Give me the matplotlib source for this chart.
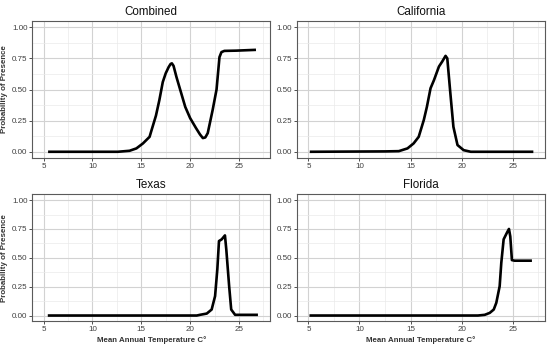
import matplotlib

matplotlib.use("Agg")
import matplotlib.pyplot as plt
from matplotlib.ticker import MultipleLocator

plt.rcParams["font.family"] = ["Liberation Sans", "DejaVu Sans"]

# curves (temperature, probability)
combined_x = [5.6, 12.6, 13.8, 14.5, 15.17, 15.85, 16.0, 16.5, 16.85, 17.2, 17.5, 17.8, 18.0,
              18.13, 18.3, 18.6, 19.2, 19.5, 20.0, 20.6, 21.0, 21.3, 21.55, 21.8, 22.3, 22.7,
              23.0, 23.2, 23.5, 24.7, 26.6]
combined_y = [0.0, 0.0, 0.008, 0.027, 0.067, 0.12, 0.16, 0.29, 0.415, 0.56, 0.63, 0.68, 0.705,
              0.71, 0.69, 0.6, 0.44, 0.36, 0.27, 0.19, 0.14, 0.11, 0.115, 0.15, 0.335, 0.5,
              0.76, 0.80, 0.81, 0.812, 0.818]

california_x = [5.26, 12.55, 13.85, 14.7, 15.3, 15.8, 16.3, 16.6, 16.96, 17.3, 17.78, 18.1,
                18.43, 18.6, 18.9, 19.2, 19.6, 20.2, 20.9, 26.9]
california_y = [0.0, 0.003, 0.005, 0.027, 0.067, 0.12, 0.255, 0.36, 0.51, 0.576, 0.684, 0.724,
                0.77, 0.75, 0.47, 0.2, 0.054, 0.013, 0.0, 0.0]

texas_x = [5.57, 20.68, 21.0, 21.7, 22.2, 22.55, 22.78, 22.95, 23.23, 23.56, 23.7, 23.99,
           24.2, 24.6, 26.8]
texas_y = [0.0, 0.0, 0.006, 0.017, 0.052, 0.168, 0.4, 0.645, 0.66, 0.694, 0.57, 0.254,
           0.052, 0.006, 0.006]

florida_x = [5.23, 21.6, 22.27, 22.76, 23.15, 23.4, 23.73, 23.89, 24.12, 24.44, 24.64, 24.77,
             24.93, 25.2, 26.76]
florida_y = [0.0, 0.0, 0.006, 0.023, 0.052, 0.11, 0.254, 0.457, 0.66, 0.717, 0.75, 0.685,
             0.48, 0.475, 0.475]

panels = [
    ("Combined", combined_x, combined_y),
    ("California", california_x, california_y),
    ("Texas", texas_x, texas_y),
    ("Florida", florida_x, florida_y),
]

x_ticks = [5, 10, 15, 20, 25]
y_ticks = [0.0, 0.25, 0.5, 0.75, 1.0]
y_tick_labels = ["0.00", "0.25", "0.50", "0.75", "1.00"]

W, H = 550, 349
fig = plt.figure(figsize=(W / 100, H / 100), dpi=100)

# axes boxes in pixels: left, top, right, bottom
boxes = [
    (32.3, 21, 270.3, 158),
    (296.7, 21, 545.3, 158),
    (32.3, 194.3, 270.3, 321.3),
    (296.7, 194.3, 545.3, 321.3),
]

for idx, ((title, xs, ys), (l, t, r, b)) in enumerate(zip(panels, boxes)):
    ax = fig.add_axes([l / W, 1 - b / H, (r - l) / W, (b - t) / H])
    ax.plot(xs, ys, color="black", linewidth=1.9, solid_joinstyle="round", zorder=3)
    ax.set_xlim(3.85, 28.2)
    ax.set_ylim(-0.05, 1.05)
    ax.set_xticks(x_ticks)
    ax.set_yticks(y_ticks)
    ax.set_yticklabels(y_tick_labels)
    ax.xaxis.set_minor_locator(MultipleLocator(2.5))
    ax.yaxis.set_minor_locator(MultipleLocator(0.125))
    ax.grid(which="major", color="#d2d2d2", linewidth=0.8)
    ax.grid(which="minor", color="#eaeaea", linewidth=0.5)
    ax.set_axisbelow(True)
    ax.tick_params(which="major", length=2.2, width=0.6, color="#333333", pad=1.2,
                   labelsize=5.8, labelcolor="#3f3f3f")
    ax.tick_params(which="minor", length=0)
    for spine in ax.spines.values():
        spine.set_color("#5a5a5a")
        spine.set_linewidth(0.8)
    ax.set_title(title, fontsize=8.4, pad=4.5, color="#111111")
    if idx % 2 == 0:
        ax.set_ylabel("Probability of Presence", fontsize=5.7, fontweight="bold",
                      color="#333333", labelpad=3)
    if idx >= 2:
        ax.set_xlabel("Mean Annual Temperature C°", fontsize=5.7, fontweight="bold",
                      color="#333333", labelpad=2.5)

fig.savefig("out.png", dpi=100)
